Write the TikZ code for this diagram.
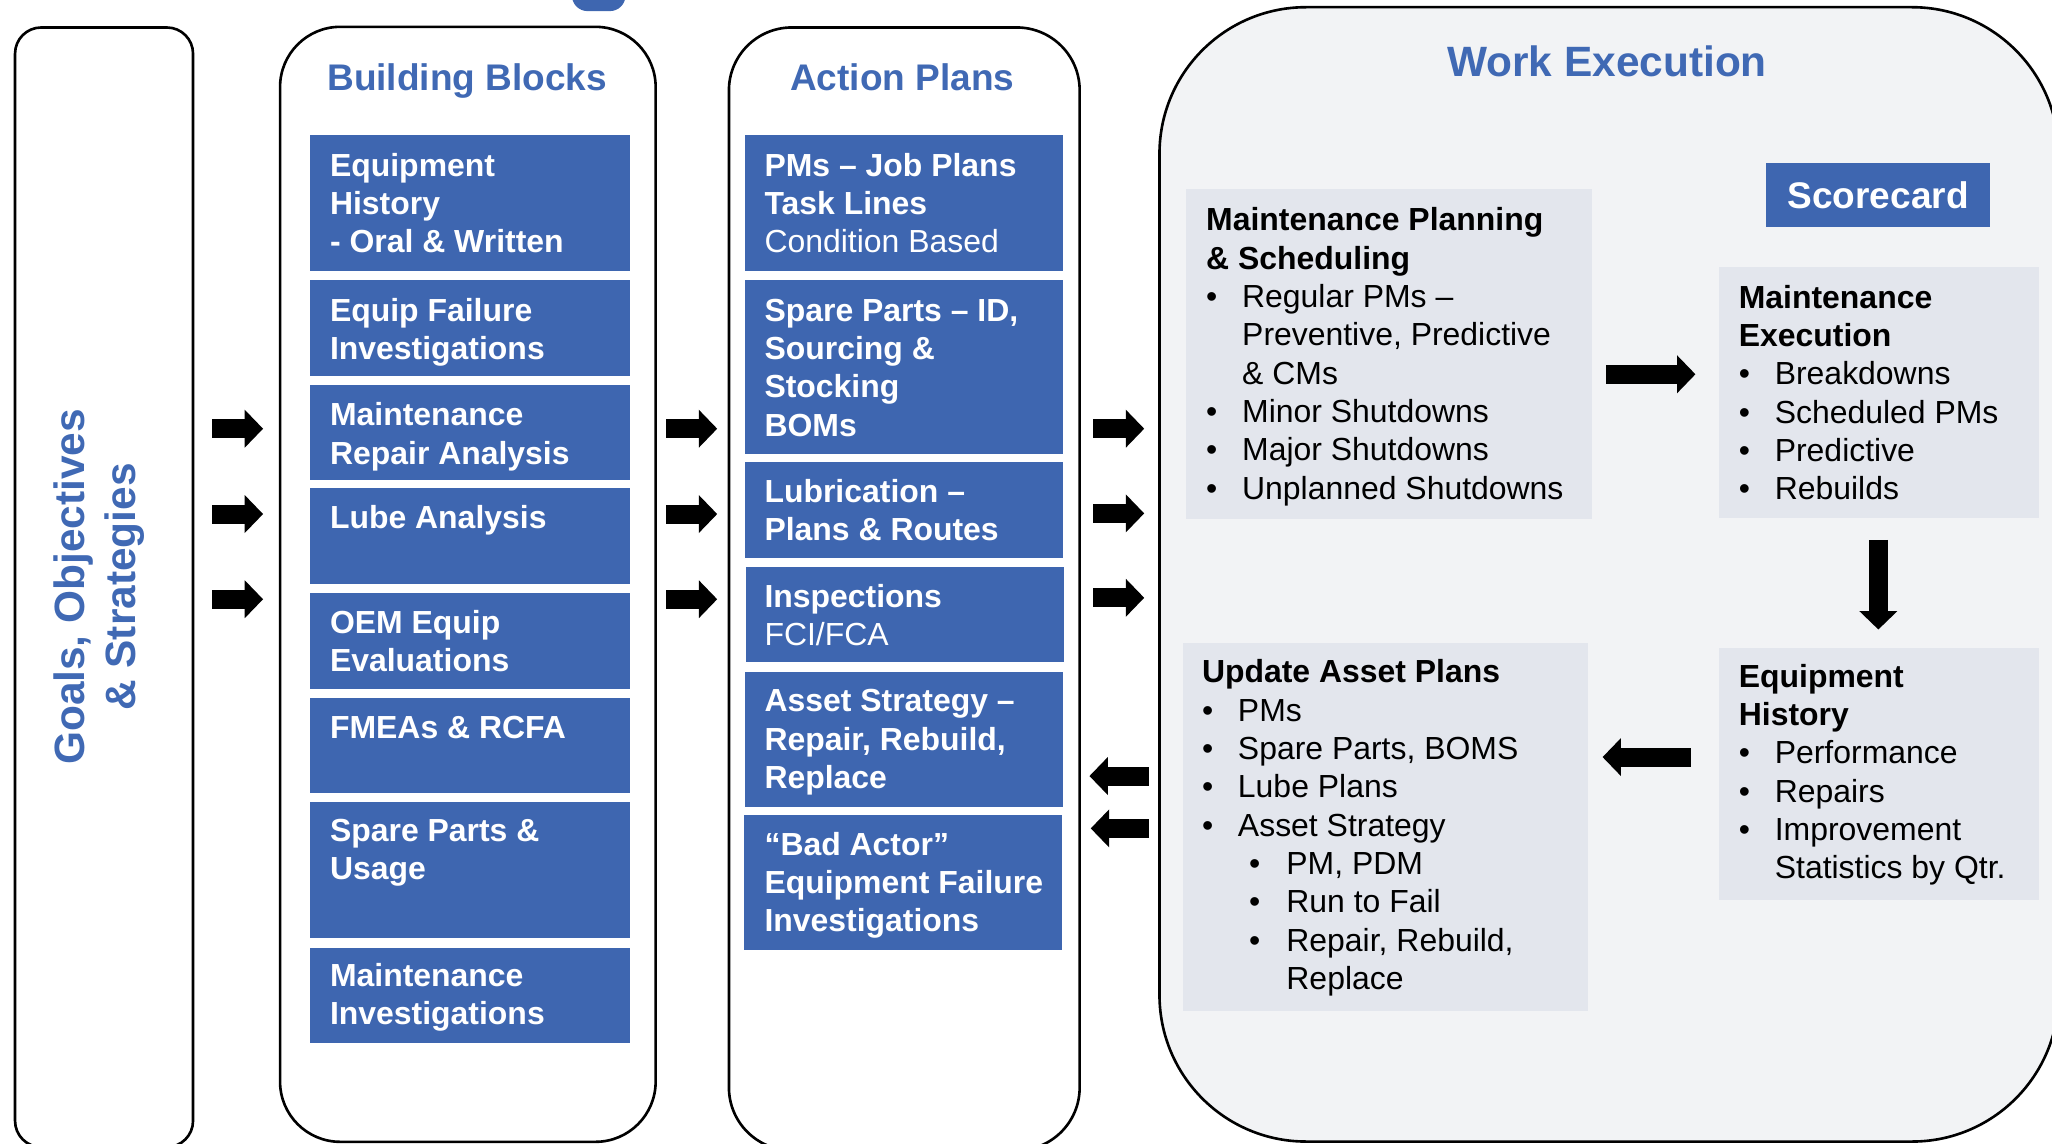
\documentclass[tikz,border=0pt]{standalone}
\usepackage{fontspec}
\setmainfont{Liberation Sans}
\usetikzlibrary{calc}
\definecolor{bbox}{RGB}{62,102,176}
\definecolor{ttl}{RGB}{64,105,180}
\definecolor{webg}{RGB}{242,243,245}
\definecolor{gbox}{RGB}{227,230,237}
\newcommand\fs{\fontsize{24.4pt}{29.3pt}\selectfont}
\newcommand\bu{\makebox[27.5pt][l]{\textbullet}}
\newcommand\bi{\hspace*{27.5pt}}
\newcommand\sbu{\hspace*{36pt}\makebox[28.5pt][l]{\textbullet}}
\newcommand\sbi{\hspace*{64.5pt}}
\newcommand\barrow[2]{%
  \path ($(#2)!14pt!(#1)$) coordinate (hb);
  \draw[line width=14.5pt] (#1) -- ($(hb)!-0.5pt!(#1)$);
  \fill (#2) -- ($(hb)!14.5pt!90:(#2)$) -- ($(hb)!14.5pt!-90:(#2)$) -- cycle;}
\begin{document}
\begin{tikzpicture}[x=1pt,y=-1pt,
  frame/.style={draw=black, line width=2pt, inner sep=0pt, anchor=north west},
  bluebox/.style={fill=bbox, draw=none, inner sep=0pt, anchor=north west},
  graybox/.style={fill=gbox, draw=none, inner sep=0pt, anchor=north west},
  boxtext/.style={anchor=base west, inner sep=0pt, text=white, font=\fs\bfseries},
  bodytext/.style={anchor=base west, inner sep=0pt, text=black, font=\fs},
  coltitle/.style={anchor=base, inner sep=0pt, text=ttl, font=\fontsize{28.3pt}{34pt}\selectfont\bfseries},
  vtext/.style={anchor=base, rotate=90, inner sep=0pt, text=ttl, font=\fontsize{32.4pt}{39pt}\selectfont\bfseries},
]
\useasboundingbox (0,0) rectangle (1568,874);
\clip (0,0) rectangle (1568,874);

% small blue shape at top edge
\fill[bbox, rounded corners=12pt] (437,-30) rectangle (478,8.5);

% column frames
\node[frame, rounded corners=20pt, minimum width=136pt, minimum height=855.5pt] (fgoal) at (10.5,20) {};
\node[frame, rounded corners=46pt, minimum width=287pt, minimum height=852pt] (fbb) at (213,19.5) {};
\node[frame, rounded corners=48pt, minimum width=268pt, minimum height=858pt] (fap) at (556,20) {};
\node[frame, fill=webg, rounded corners=112pt, minimum width=687pt, minimum height=866.8pt] (fwe) at (885,4.5) {};

% vertical text
\node[vtext] (g1) at (64.5,448.5) {Goals, Objectives};
\node[vtext] (g2) at (103.5,448.5) {\& Strategies};

% titles
\node[coltitle] (tbb) at (357,69) {Building Blocks};
\node[coltitle] (tap) at (689.5,69) {Action Plans};
\node[coltitle, font=\fontsize{32.4pt}{39pt}\selectfont\bfseries] (twe) at (1228,58.7) {Work Execution};

% building blocks
\node[bluebox, minimum width=244pt, minimum height=104pt] (b1) at (237,103) {};
\node[bluebox, minimum width=244pt, minimum height=73pt] (b2) at (237,214) {};
\node[bluebox, minimum width=244pt, minimum height=72.5pt] (b3) at (237,294) {};
\node[bluebox, minimum width=244pt, minimum height=73pt] (b4) at (237,373) {};
\node[bluebox, minimum width=244pt, minimum height=73pt] (b5) at (237,453) {};
\node[bluebox, minimum width=244pt, minimum height=73pt] (b6) at (237,533) {};
\node[bluebox, minimum width=244pt, minimum height=103.5pt] (b7) at (237,613) {};
\node[bluebox, minimum width=244pt, minimum height=73pt] (b8) at (237,724) {};
\node[boxtext] (b1t) at ($(b1.north west)+(15,31.5)$) {\parbox[t]{230pt}{Equipment\\History\\- Oral \& Written}};
\node[boxtext] (b2t) at ($(b2.north west)+(15,31.5)$) {\parbox[t]{230pt}{Equip Failure\\Investigations}};
\node[boxtext] (b3t) at ($(b3.north west)+(15,31.5)$) {\parbox[t]{230pt}{Maintenance\\Repair Analysis}};
\node[boxtext] (b4t) at ($(b4.north west)+(15,31)$) {\parbox[t]{230pt}{Lube Analysis}};
\node[boxtext] (b5t) at ($(b5.north west)+(15,31)$) {\parbox[t]{230pt}{OEM Equip\\Evaluations}};
\node[boxtext] (b6t) at ($(b6.north west)+(15,31)$) {\parbox[t]{230pt}{FMEAs \& RCFA}};
\node[boxtext] (b7t) at ($(b7.north west)+(15,30)$) {\parbox[t]{230pt}{Spare Parts \&\\Usage}};
\node[boxtext] (b8t) at ($(b8.north west)+(15,29.5)$) {\parbox[t]{230pt}{Maintenance\\Investigations}};

% action plans
\node[bluebox, minimum width=243pt, minimum height=104pt] (a1) at (569,103) {};
\node[bluebox, minimum width=243pt, minimum height=132.5pt] (a2) at (569,214) {};
\node[bluebox, minimum width=243pt, minimum height=73pt] (a3) at (569,353) {};
\node[bluebox, minimum width=243pt, minimum height=73pt] (a4) at (569.5,433) {};
\node[bluebox, minimum width=243pt, minimum height=103.5pt] (a5) at (569,513) {};
\node[bluebox, minimum width=243pt, minimum height=103pt] (a6) at (568,622.5) {};
\node[boxtext] (a1t) at ($(a1.north west)+(15,31.5)$) {\parbox[t]{230pt}{PMs – Job Plans\\Task Lines\\\mdseries Condition Based}};
\node[boxtext] (a2t) at ($(a2.north west)+(15,31.5)$) {\parbox[t]{230pt}{Spare Parts – ID,\\Sourcing \&\\Stocking\\BOMs}};
\node[boxtext] (a3t) at ($(a3.north west)+(15,31)$) {\parbox[t]{230pt}{Lubrication –\\Plans \& Routes}};
\node[boxtext] (a4t) at ($(a4.north west)+(14.5,31.3)$) {\parbox[t]{230pt}{Inspections\\\mdseries FCI/FCA}};
\node[boxtext] (a5t) at ($(a5.north west)+(15,31)$) {\parbox[t]{230pt}{Asset Strategy –\\Repair, Rebuild,\\Replace}};
\node[boxtext] (a6t) at ($(a6.north west)+(16,31)$) {\parbox[t]{230pt}{“Bad Actor”\\Equipment Failure\\Investigations}};

% work execution boxes
\node[graybox, minimum width=310pt, minimum height=252.5pt] (mps) at (906,144) {};
\node[bluebox, minimum width=171pt, minimum height=49.5pt, text=white, font=\fontsize{28.3pt}{34pt}\selectfont\bfseries] (sc) at (1349.5,124) {Scorecard};
\node[graybox, minimum width=244.5pt, minimum height=192.5pt] (mex) at (1313,203.5) {};
\node[graybox, minimum width=309pt, minimum height=281pt] (uap) at (904,491) {};
\node[graybox, minimum width=244.5pt, minimum height=192.5pt] (eqh) at (1313,495) {};

\node[bodytext] (mpst) at (921.5,176.3) {\parbox[t]{290pt}{\bfseries Maintenance Planning\\\& Scheduling\\\mdseries
\bu Regular PMs –\\\bi Preventive, Predictive\\\bi \& CMs\\\bu Minor Shutdowns\\\bu Major Shutdowns\\\bu Unplanned Shutdowns}};
\node[bodytext] (mext) at (1328.5,235.5) {\parbox[t]{225pt}{\bfseries Maintenance\\Execution\\\mdseries
\bu Breakdowns\\\bu Scheduled PMs\\\bu Predictive\\\bu Rebuilds}};
\node[bodytext] (uapt) at (918.3,521.8) {\parbox[t]{290pt}{\bfseries Update Asset Plans\\\mdseries
\bu PMs\\\bu Spare Parts, BOMS\\\bu Lube Plans\\\bu Asset Strategy\\\sbu PM, PDM\\\sbu Run to Fail\\\sbu Repair, Rebuild,\\\sbi Replace}};
\node[bodytext] (eqht) at (1328.5,525) {\parbox[t]{225pt}{\bfseries Equipment\\History\\\mdseries
\bu Performance\\\bu Repairs\\\bu Improvement\\\bi Statistics by Qtr.}};

% block arrows
\foreach \i/\y in {1/327.6,2/392.8,3/457.9}{
  \coordinate (ga\i) at (162,\y); \coordinate (gb\i) at (201,\y);
  \barrow{ga\i}{gb\i}
  \coordinate (ba\i) at (509,\y); \coordinate (bb\i) at (548,\y);
  \barrow{ba\i}{bb\i}
}
\foreach \i/\y in {1/327.6,2/392.3,3/456.8}{
  \coordinate (pa\i) at (835.5,\y); \coordinate (pb\i) at (874.3,\y);
  \barrow{pa\i}{pb\i}
}
\coordinate (ra1) at (877.6,593); \coordinate (rb1) at (832.5,593);
\barrow{ra1}{rb1}
\coordinate (ra2) at (878,633); \coordinate (rb2) at (833.5,633);
\barrow{ra2}{rb2}
\coordinate (wa) at (1227.5,286); \coordinate (wb) at (1295.5,286);
\barrow{wa}{wb}
\coordinate (da) at (1435.3,412.5); \coordinate (db) at (1435.3,481);
\barrow{da}{db}
\coordinate (ea) at (1292,578.5); \coordinate (eb) at (1224.6,578.5);
\barrow{ea}{eb}
\end{tikzpicture}
\end{document}
